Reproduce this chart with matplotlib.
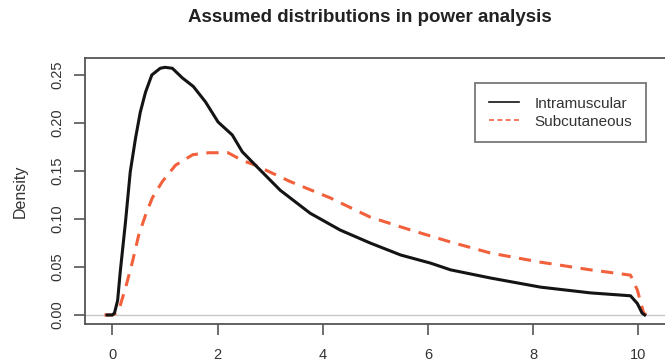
import matplotlib
matplotlib.use("Agg")
import matplotlib.pyplot as plt
from matplotlib.lines import Line2D

plt.rcParams['font.family'] = ['Liberation Sans', 'DejaVu Sans']

# Data
im_x = [-0.1, 0.0, 0.04, 0.1, 0.15, 0.25, 0.34, 0.44, 0.53, 0.63, 0.75, 0.91, 1.0, 1.14,
        1.33, 1.54, 1.77, 2.01, 2.28, 2.47, 2.72, 3.19, 3.76, 4.33, 4.9, 5.48, 6.05,
        6.43, 7.19, 8.14, 9.09, 9.85, 9.98, 10.07, 10.12]
im_y = [0.0, 0.0, 0.002, 0.015, 0.045, 0.097, 0.149, 0.184, 0.211, 0.232, 0.25, 0.257,
        0.258, 0.257, 0.247, 0.238, 0.222, 0.201, 0.1875, 0.170, 0.156, 0.130, 0.106,
        0.0885, 0.075, 0.0625, 0.054, 0.047, 0.0385, 0.029, 0.023, 0.020, 0.012, 0.002, 0.0]

sc_x = [-0.15, 0.0, 0.11, 0.25, 0.38, 0.5, 0.63, 0.76, 0.95, 1.2, 1.53, 1.83, 2.2, 2.47,
        2.72, 3.38, 4.14, 4.9, 5.67, 6.43, 7.19, 8.14, 9.09, 9.85, 9.98, 10.1, 10.15]
sc_y = [0.0, 0.0, 0.003, 0.028, 0.055, 0.083, 0.104, 0.122, 0.139, 0.156, 0.167, 0.169,
        0.169, 0.161, 0.156, 0.139, 0.122, 0.102, 0.0885, 0.076, 0.0645, 0.055, 0.047,
        0.0415, 0.026, 0.002, 0.0]

x_ticks = [0, 2, 4, 6, 8, 10]
y_ticks = [0.00, 0.05, 0.10, 0.15, 0.20, 0.25]
y_tick_labels = ["0.00", "0.05", "0.10", "0.15", "0.20", "0.25"]
series_names = ["Intramuscular", "Subcutaneous"]

W, H = 665, 361
fig = plt.figure(figsize=(W / 100, H / 100), dpi=100)
left, right, top, bottom = 85, 671, 58, 324
ax = fig.add_axes([left / W, 1 - bottom / H, (right - left) / W, (bottom - top) / H])

black = "#141414"
red = "#f2603c"

ax.axhline(0, color="#c8c8c8", lw=1.0, zorder=1)
ax.plot(im_x, im_y, color=black, lw=2.2, solid_joinstyle="round", zorder=3)
ax.plot(sc_x, sc_y, color=red, lw=2.2, linestyle=(0, (4, 2.8)), zorder=2)

ax.set_xlim(-0.52, 10.62)
ax.set_ylim(-0.0094, 0.2677)
ax.set_xticks(x_ticks)
ax.set_xticklabels([str(t) for t in x_ticks])
ax.set_yticks(y_ticks)
ax.set_yticklabels(y_tick_labels, rotation=90, va="center")

for s in ax.spines.values():
    s.set_color("#555555")
    s.set_linewidth(1.3)
ax.tick_params(direction="out", length=8, width=1.2, color="#555555",
               labelsize=10.5, labelcolor="#333333")
ax.tick_params(axis="x", pad=9)
ax.tick_params(axis="y", pad=7)

ax.set_ylabel("Density", fontsize=11.5, color="#333333", labelpad=16)

fig.text(0.556, 1 - 18 / H, "Assumed distributions in power analysis",
         ha="center", va="center", fontsize=13.5, fontweight="bold", color="#222222")

handles = [Line2D([], [], color=black, lw=1.2),
           Line2D([], [], color=red, lw=1.2, linestyle=(0, (3, 2)))]
leg = ax.legend(handles, series_names, loc="upper right",
                bbox_to_anchor=(646 / W, 1 - 83 / H), bbox_transform=fig.transFigure,
                frameon=True, fancybox=False, fontsize=11, handlelength=2.0,
                handletextpad=1.0, borderpad=0.9, labelspacing=0.25, borderaxespad=0)
leg.get_frame().set_edgecolor("#555555")
leg.get_frame().set_linewidth(1.3)
for t in leg.get_texts():
    t.set_color("#333333")

fig.savefig("out.png", dpi=100)
